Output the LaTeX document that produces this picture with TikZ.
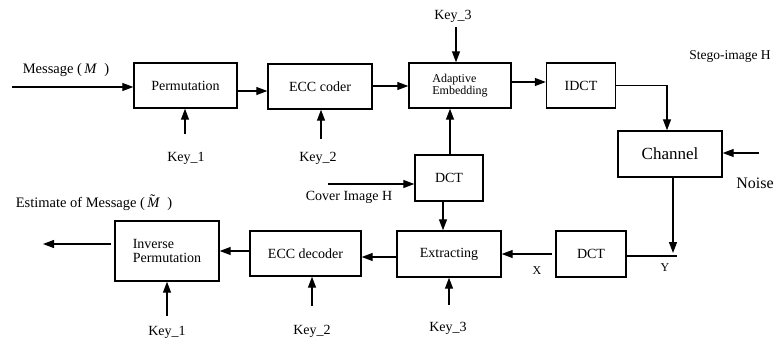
\documentclass[tikz,border=0pt]{standalone}
\usepackage{fontspec}
\setmainfont{Liberation Serif}
\usetikzlibrary{arrows.meta,calc}

\newcommand{\fs}[1]{\fontsize{#1}{#1}\selectfont}
\newcommand{\tildeM}{\makebox[0pt][l]{\raisebox{0.2em}{\hspace{0.2em}\char"02DC}}\textit{M}}

\tikzset{
  blk/.style={draw, line width=1.4pt, rectangle, inner sep=0pt, font=\fs{14}},
  lbl/.style={inner sep=0pt, font=\fs{14}},
  flow/.style={line width=1.3pt, -{Triangle[length=11pt,width=8pt]}},
  wire/.style={line width=1.3pt}
}

\begin{document}
\begin{tikzpicture}[x=1pt, y=-1pt]
  \useasboundingbox (0,0) rectangle (775,342);

  % ---------- embedding chain ----------
  \node[blk, minimum width=103pt, minimum height=45pt] (perm) at (185.5,85.5) {Permutation};
  \node[blk, minimum width=104pt, minimum height=45pt] (ecc)  at (320,86.5) {ECC coder};
  \node[blk, minimum width=102pt, minimum height=45pt, font=\fs{12}, align=left] (emb) at (460,85.5)
        {Adaptive\\Embedding};
  \node[blk, minimum width=69pt, minimum height=45pt] (idct) at (581,85.5) {IDCT};
  \node[blk, minimum width=104pt, minimum height=46pt, font=\fs{17}] (chan) at (670,154) {Channel};
  \node[blk, minimum width=68pt, minimum height=46pt] (dctc) at (449,178) {DCT};

  % ---------- extraction chain ----------
  \node[blk, minimum width=104pt, minimum height=46pt] (extr) at (449,254) {Extracting};
  \node[blk, minimum width=70pt, minimum height=46pt] (dctr) at (591,254) {DCT};
  \node[blk, minimum width=111pt, minimum height=45pt] (eccd) at (305.5,253.5) {ECC decoder};
  \node[blk, minimum width=104pt, minimum height=60pt, align=left] (inv) at (167,251)
        {Inverse\\Permutation};

  % ---------- text labels ----------
  \node[lbl, font=\fs{14.5}] (msg) at (66,70) {Message (\,\textit{M}\ \ )};
  \node[lbl] (k1a) at (186,158) {Key\_1};
  \node[lbl] (k2a) at (318,158) {Key\_2};
  \node[lbl] (k3a) at (453,16) {Key\_3};
  \node[lbl, font=\fs{13.5}] (stego) at (730,56) {Stego-image H};
  \node[lbl, font=\fs{16}] (noise) at (755,183) {Noise};
  \node[lbl] (cover) at (349,197) {Cover Image H};
  \node[lbl, font=\fs{12}] (xl) at (537,271) {X};
  \node[lbl, font=\fs{12}] (yl) at (665,268) {Y};
  \node[lbl, font=\fs{14.5}] (est) at (94,203) {Estimate of Message (\,\tildeM\ \ )};
  \node[lbl] (k1b) at (167,332) {Key\_1};
  \node[lbl] (k2b) at (312,331) {Key\_2};
  \node[lbl] (k3b) at (448,328) {Key\_3};

  % ---------- free ends of connectors ----------
  \coordinate (msgin) at (12,87);
  \coordinate (k1as) at (185,134);
  \coordinate (k2as) at (321,139);
  \coordinate (k3as) at (456,27);
  \coordinate (covin) at (328,184);
  \coordinate (noisein) at (759,153);
  \coordinate (chdown) at (673,253);
  \coordinate (yend) at (677,256);
  \coordinate (xstart) at (552,254);
  \coordinate (out) at (43,244);
  \coordinate (k1bs) at (167,316);
  \coordinate (k2bs) at (312,306);
  \coordinate (k3bs) at (449,305);

  % ---------- exit points on box sides ----------
  \coordinate (pe) at ($(perm.east)+(0,5.5)$);
  \coordinate (ee) at ($(ecc.east)+(0,-0.5)$);
  \coordinate (me) at ($(emb.east)+(0,-3.5)$);
  \coordinate (chn) at ($(chan.north)+(-3,0)$);
  \coordinate (dcn) at ($(dctc.north)+(1,0)$);
  \coordinate (dcs) at ($(dctc.south)+(-6,0)$);
  \coordinate (xw) at ($(extr.west)+(0,3)$);
  \coordinate (dw) at ($(eccd.west)+(0,-2.5)$);
  \coordinate (iw) at ($(out -| inv.west)+(-3,0)$);

  % ---------- connectors: embedding ----------
  \draw[flow] (msgin) -- (msgin -| perm.west);
  \draw[flow] (pe) -- (pe -| ecc.west);
  \draw[flow] (ee) -- (ee -| emb.west);
  \draw[flow] (me) -- (me -| idct.west);
  \draw[flow] (idct.east) -| (chn);
  \draw[flow] (k1as) -- (k1as |- perm.south);
  \draw[flow] (k2as) -- (k2as |- ecc.south);
  \draw[flow] (k3as) -- (k3as |- emb.north);
  \draw[flow] (dcn) -- (dcn |- emb.south);
  \draw[flow] (covin) -- (covin -| dctc.west);
  \draw[flow] (noisein) -- (noisein -| chan.east);

  % ---------- connectors: extraction ----------
  \draw[flow] (chdown |- chan.south) -- (chdown);
  \draw[wire] (dctr.east |- yend) -- (yend);
  \draw[flow] (xstart) -- (xstart -| extr.east);
  \draw[flow] (dcs) -- (dcs |- extr.north);
  \draw[flow] (xw) -- (xw -| eccd.east);
  \draw[flow] (dw) -- (dw -| inv.east);
  \draw[flow] (iw) -- (out);
  \draw[flow] (k1bs) -- (k1bs |- inv.south);
  \draw[flow] (k2bs) -- (k2bs |- eccd.south);
  \draw[flow] (k3bs) -- (k3bs |- extr.south);
\end{tikzpicture}
\end{document}
